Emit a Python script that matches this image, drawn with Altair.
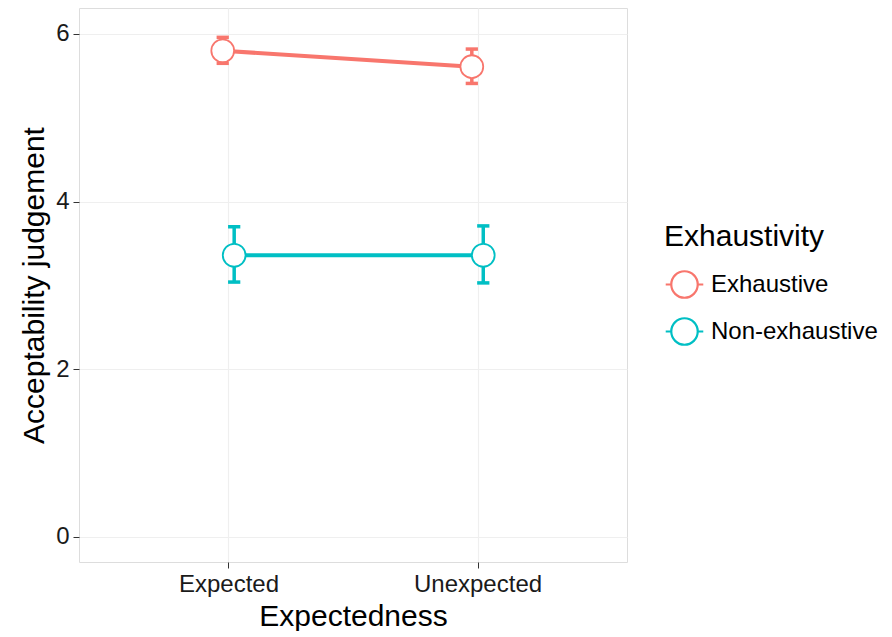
import altair as alt
import pandas as pd

expectedness = ["Expected", "Unexpected", "Expected", "Unexpected"]
exhaustivity = ["Exhaustive", "Exhaustive", "Non-exhaustive", "Non-exhaustive"]
means = [5.80, 5.61, 3.36, 3.36]
lower = [5.65, 5.41, 3.04, 3.03]
upper = [5.96, 5.82, 3.70, 3.71]

df = pd.DataFrame({
    "Expectedness": expectedness,
    "Exhaustivity": exhaustivity,
    "mean": means,
    "lo": lower,
    "hi": upper,
})

colors = ["#F8766D", "#00BFC4"]
groups = ["Exhaustive", "Non-exhaustive"]
FONT = "Liberation Sans"

base = alt.Chart(df).transform_calculate(
    xpos="(datum.Expectedness == 'Expected' ? 1 : 2) + (datum.Exhaustivity == 'Exhaustive' ? -0.023 : 0.023)"
)

xenc = alt.X("xpos:Q",
             scale=alt.Scale(domain=[0.4, 2.6], nice=False, zero=False),
             axis=alt.Axis(values=[1, 2], title="Expectedness",
                           labelExpr="datum.value == 1 ? 'Expected' : 'Unexpected'",
                           labelFontSize=24, titleFontSize=30, labelColor="#1a1a1a",
                           titleColor="#000000", labelFont=FONT, titleFont=FONT,
                           tickColor="#333333", tickSize=6, labelPadding=4,
                           titlePadding=5, titleFontWeight="normal",
                           gridColor="#EFEFEF", gridWidth=1.2, domain=False))
yscale = alt.Scale(domain=[-0.3, 6.31], nice=False, zero=False)
yaxis = alt.Axis(values=[0, 2, 4, 6], format="d", title="Acceptability judgement",
                 labelFontSize=24, titleFontSize=30, labelColor="#1a1a1a",
                 titleColor="#000000", labelFont=FONT, titleFont=FONT,
                 tickColor="#333333", tickSize=6, labelPadding=4, titlePadding=6,
                 titleFontWeight="normal", gridColor="#EFEFEF", gridWidth=1.2,
                 domain=False)

sym = "M -1.42 0 L -1 0 M 1 0 L 1.42 0 M -1 0 A 1 1 0 1 0 1 0 A 1 1 0 1 0 -1 0 Z"
legend = alt.Legend(title="Exhaustivity", orient="none",
                    legendX=585, legendY=214,
                    titleFontSize=30, labelFontSize=24,
                    titleFont=FONT, labelFont=FONT,
                    titleFontWeight="normal", titleColor="#000000",
                    labelColor="#000000", labelLimit=400,
                    symbolType=sym, symbolSize=700,
                    symbolFillColor="white", symbolStrokeWidth=2.2,
                    symbolOpacity=1, symbolOffset=6, rowPadding=10,
                    titlePadding=18, labelOffset=12)
cenc = alt.Color("Exhaustivity:N", scale=alt.Scale(domain=groups, range=colors),
                 legend=legend)

lines = base.mark_line(strokeWidth=4).encode(
    x=xenc, y=alt.Y("mean:Q", scale=yscale, axis=yaxis),
    color=cenc, detail="Exhaustivity:N")

bars = base.mark_rule(strokeWidth=3.5).encode(
    x="xpos:Q", y="lo:Q", y2="hi:Q", color=cenc)

cap = "M -1 0 L 1 0"
cap_lo = base.mark_point(shape=cap, filled=False, size=150, strokeWidth=3.5, opacity=1).encode(
    x="xpos:Q", y="lo:Q", color=cenc)
cap_hi = base.mark_point(shape=cap, filled=False, size=150, strokeWidth=3.5, opacity=1).encode(
    x="xpos:Q", y="hi:Q", color=cenc)

points = base.mark_point(filled=False, fill="white", fillOpacity=1, size=520,
                         strokeWidth=1.8, opacity=1).encode(
    x="xpos:Q", y="mean:Q", color=cenc)

chart = alt.layer(lines, bars, cap_lo, cap_hi, points).properties(
    width=548, height=554,
    padding={"left": 11, "top": 0, "right": 0, "bottom": 0},
).configure_view(stroke="#8C8C8C", strokeWidth=1.2).configure(background="white")

chart.save("out.html", embed_options={"renderer": "svg", "actions": False})
